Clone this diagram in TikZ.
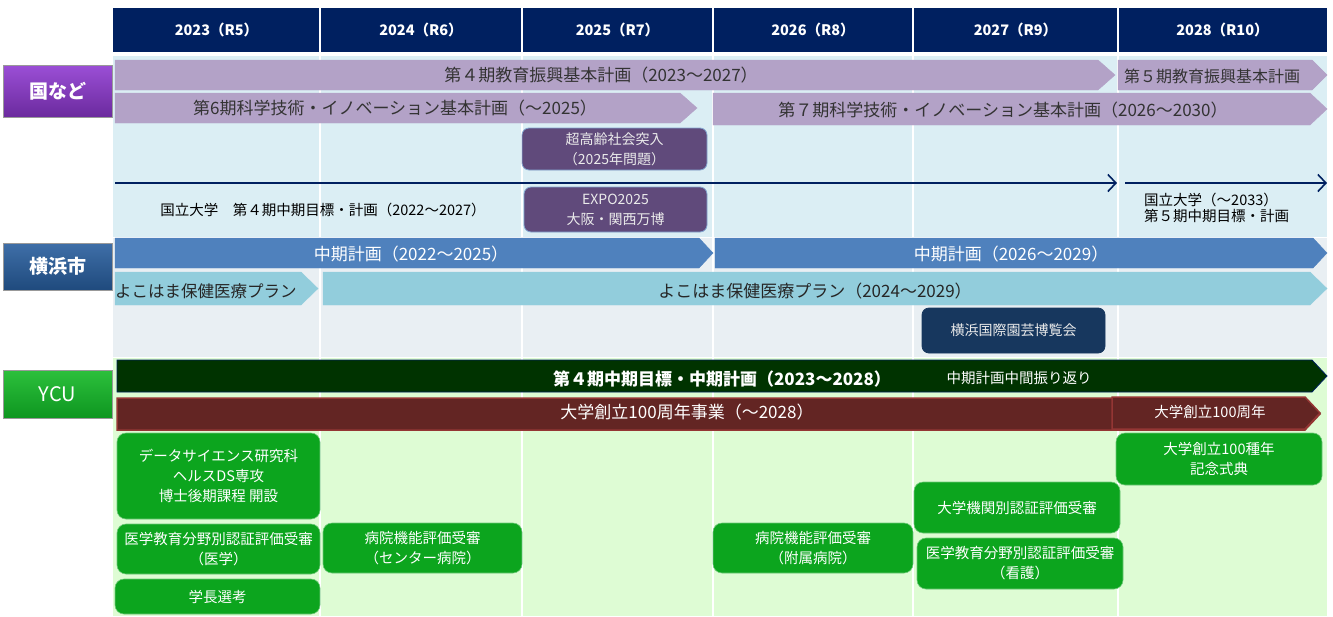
\documentclass[tikz,border=0pt]{standalone}
\usepackage{fontspec}
\setmainfont{Noto Sans CJK JP}
\usetikzlibrary{positioning,arrows.meta}

\definecolor{hdnavy}{HTML}{002060}
\definecolor{lavender}{HTML}{B3A2C7}
\definecolor{kunibg}{HTML}{DBEEF4}
\definecolor{cityb}{HTML}{E9EFF3}
\definecolor{ycubg}{HTML}{DEFCD4}
\definecolor{eventpurple}{HTML}{604A7B}
\definecolor{cityblue}{HTML}{4F81BD}
\definecolor{planblue}{HTML}{92CDDC}
\definecolor{expo}{HTML}{17375E}
\definecolor{ycudark}{HTML}{003300}
\definecolor{maroon}{HTML}{632523}
\definecolor{maroonedge}{HTML}{943634}
\definecolor{ycugreen}{HTML}{0CA51E}
\definecolor{kunitop}{HTML}{9B4FD6}
\definecolor{kunibot}{HTML}{6B2A9E}
\definecolor{citytop}{HTML}{3F6FA8}
\definecolor{citybot}{HTML}{1F4A7D}
\definecolor{ycutop}{HTML}{2CC03C}
\definecolor{ycubot}{HTML}{0E9620}

% bar with pointed right end: name, style, left x, tip x, top y, bottom y, depth
\newcommand{\planbar}[7]{%
  \filldraw[#2] (#3,#5) -- (#4-#7,#5) -- (#4,{(#5+#6)/2}) -- (#4-#7,#6) -- (#3,#6) -- cycle;
  \coordinate (#1) at ({(#3+#4)/2},{(#5+#6)/2});}

\tikzset{
  yearlabel/.style={text=white, font=\fontsize{14.5}{16}\selectfont\bfseries},
  barlabel/.style={inner sep=0pt, font=\fontsize{17}{18}\selectfont},
  smalllabel/.style={inner sep=0pt, align=left, font=\fontsize{14.5}{16}\selectfont},
  eventbox/.style={rounded corners=7pt, fill=eventpurple, draw=cityblue!70, line width=0.8pt,
    text=white!92!black, align=center, inner sep=0pt, font=\fontsize{14}{20}\selectfont},
  greenbox/.style={rounded corners=9pt, fill=ycugreen, draw=ycugreen!60!white, line width=0.6pt,
    text=white, align=center, inner sep=0pt, font=\fontsize{14.5}{20}\selectfont},
  sidebox/.style={minimum width=109, minimum height=50, inner sep=0pt, text=white,
    font=\fontsize{19}{22}\selectfont\bfseries, draw=black!40, line width=0.6pt}
}

\begin{document}
\begin{tikzpicture}[x=1pt, y=-1pt]
  \useasboundingbox (0,0) rectangle (1333,616);

  % backgrounds
  \fill[kunibg] (113,56) rectangle (1327,237);
  \fill[cityb] (113,238) rectangle (1327,357);
  \fill[ycubg] (113,358) rectangle (1327,616);
  \foreach \x in {320,522,713,913,1118}
    \draw[white, line width=1.5pt] (\x,56) -- (\x,616);

  % header
  \fill[hdnavy] (113,8) rectangle (1327,52);
  \foreach \x in {320,522,713,913,1118}
    \draw[white, line width=1.5pt] (\x,8) -- (\x,52);
  \foreach \name/\x/\lbl in {y23/216.5/2023（R5）, y24/421/2024（R6）, y25/617.5/2025（R7）,
      y26/813/2026（R8）, y27/1015.5/2027（R9）, y28/1222.5/2028（R10）}
    \node[yearlabel] (\name) at (\x,30) {\lbl};

  % side labels
  \node[sidebox, minimum height=52, top color=kunitop, bottom color=kunibot] (kuni) at (57.5,91) {国など};
  \node[sidebox, minimum height=47, top color=citytop, bottom color=citybot] (city) at (57.5,266.5) {横浜市};
  \node[sidebox, minimum height=48, top color=ycutop, bottom color=ycubot,
    font=\fontsize{20}{22}\selectfont] (ycu) at (57.5,394) {YCU};

  % national plans
  \planbar{edu4}{lavender}{115}{1115}{60}{90}{17}
  \planbar{edu5}{lavender}{1118}{1327}{60}{90}{15}
  \planbar{sci6}{lavender}{115}{697}{93}{123}{17}
  \planbar{sci7}{lavender}{713}{1327}{93}{125}{17}
  \node[barlabel, text=black!80] (edu4t) at (601,75) {第４期教育振興基本計画（2023～2027）};
  \node[barlabel, text=black!80, font=\fontsize{16}{18}\selectfont] (edu5t) at (1212,76) {第５期教育振興基本計画};
  \node[barlabel, text=black!80] (sci6t) at (395,108) {第6期科学技術・イノベーション基本計画（～2025）};
  \node[barlabel, text=black!80] (sci7t) at (1003,110) {第７期科学技術・イノベーション基本計画（2026～2030）};

  \node[eventbox, minimum width=185, minimum height=42] (aging) at (614.5,149) {超高齢社会突入\\（2025年問題）};
  \node[eventbox, minimum width=183, minimum height=45] (expo25) at (615.5,209.5) {EXPO2025\\大阪・関西万博};

  \coordinate (nu4s) at (115,183);
  \coordinate (nu4e) at (1117,183);
  \coordinate (nu5s) at (1125,183);
  \coordinate (nu5e) at (1327,183);
  \draw[hdnavy, line width=1.6pt, -{Straight Barb[length=8pt, width=17pt]}] (nu4s) -- (nu4e);
  \draw[hdnavy, line width=1.6pt, -{Straight Barb[length=8pt, width=17pt]}] (nu5s) -- (nu5e);
  \node[smalllabel] (nu4t) at (323,210) {国立大学　第４期中期目標・計画（2022～2027）};
  \node[smalllabel, anchor=west] (nu5t) at (1144,208) {国立大学（～2033）\\第５期中期目標・計画};

  % city plans
  \planbar{city1}{cityblue}{115}{713}{238}{268}{14}
  \planbar{city2}{cityblue}{715}{1327}{238}{268}{14}
  \planbar{plan1}{planblue}{115}{318}{272}{305}{17}
  \planbar{plan2}{planblue}{323}{1327}{272}{305}{17}
  \node[barlabel, text=white] (city1t) at (411,254) {中期計画（2022～2025）};
  \node[barlabel, text=white] (city2t) at (1011,254) {中期計画（2026～2029）};
  \node[barlabel, anchor=west, text=black!85, font=\fontsize{16.5}{18}\selectfont] (plan1t) at (115,291) {よこはま保健医療プラン};
  \node[barlabel, text=black!85] (plan2t) at (815,291) {よこはま保健医療プラン（2024～2029）};
  \node[eventbox, fill=expo, draw=expo, minimum width=183, minimum height=45] (garden) at (1013.5,330.5) {横浜国際園芸博覧会};

  % YCU plans
  \planbar{ycu4}{ycudark, draw=hdnavy, line width=0.8pt}{117}{1327}{360}{392}{15}
  \planbar{cent}{maroon, draw=maroonedge, line width=1.5pt}{117}{1320}{398}{430}{15}
  \planbar{cent100}{maroon, draw=maroonedge, line width=1.5pt}{1112}{1320}{397}{429}{15}
  \node[barlabel, text=white, font=\fontsize{17}{18}\selectfont\bfseries] (ycu4t) at (722,379) {第４期中期目標・中期計画（2023～2028）};
  \node[smalllabel, text=white] (midrev) at (1019,378) {中期計画中間振り返り};
  \node[barlabel, text=white] (centt) at (687,412) {大学創立100周年事業（～2028）};
  \node[smalllabel, text=white] (cent100t) at (1210,412) {大学創立100周年};

  \node[greenbox, minimum width=203, minimum height=86] (dsphd) at (218.5,476) {データサイエンス研究科\\ヘルスDS専攻\\博士後期課程 開設};
  \node[greenbox, minimum width=203, minimum height=50] (medacc) at (218.5,549) {医学教育分野別認証評価受審\\（医学）};
  \node[greenbox, minimum width=205, minimum height=35] (pres) at (217.5,596.5) {学長選考};
  \node[greenbox, minimum width=199, minimum height=50] (hospc) at (422.5,548) {病院機能評価受審\\（センター病院）};
  \node[greenbox, minimum width=200, minimum height=50] (hospf) at (813,548) {病院機能評価受審\\（附属病院）};
  \node[greenbox, minimum width=206, minimum height=51] (instacc) at (1017,507.5) {大学機関別認証評価受審};
  \node[greenbox, minimum width=206, minimum height=51] (nursacc) at (1020,563.5) {医学教育分野別認証評価受審\\（看護）};
  \node[greenbox, minimum width=206, minimum height=52] (ceremony) at (1219,459) {大学創立100種年\\記念式典};
\end{tikzpicture}
\end{document}
